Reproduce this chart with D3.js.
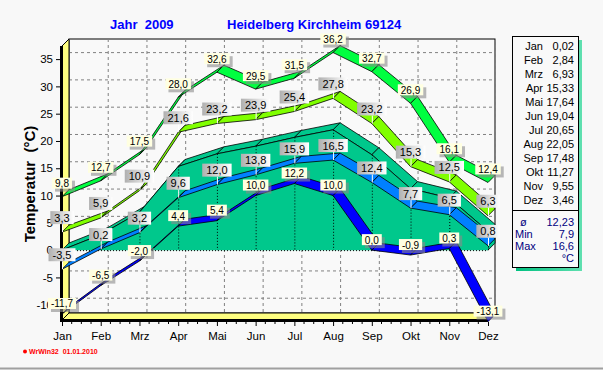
<!DOCTYPE html>
<html>
<head>
<meta charset="utf-8">
<script src="https://cdn.jsdelivr.net/npm/d3@7"></script>
<style>
  body { margin: 0; background: #f8f8f8; }
  svg { display: block; font-family: "Liberation Sans", Arial, sans-serif; }
</style>
</head>
<body>
<div id="chart"></div>
<script>
// monthly values, Heidelberg Kirchheim 2009
const months = ["Jan","Feb","Mrz","Apr","Mai","Jun","Jul","Aug","Sep","Okt","Nov","Dez"];
const absMax = [9.8,12.7,17.5,28.0,32.6,29.5,31.5,36.2,32.7,26.9,16.1,12.4];
const meanMax = [3.3,5.9,10.9,21.6,23.2,23.9,25.4,27.8,23.2,15.3,12.5,6.3];
const meanTemp = [0.02,2.84,6.93,15.33,17.64,19.04,20.65,22.05,17.48,11.27,9.55,3.46];
const meanMin = [-3.5,0.2,3.2,9.6,12.0,13.8,15.9,16.5,12.4,7.7,6.5,0.8];
const absMin = [-11.7,-6.5,-2.0,4.4,5.4,10.0,12.2,10.0,0.0,-0.9,0.3,-13.1];
const yTicks = [-10,-5,0,5,10,15,20,25,30,35];
const statNames = ["ø","Min","Max"];
const statValues = ["12,23","7,9","16,6"];

const W = 603, H = 370;
const D = 7; // 3d depth

const svg = d3.select("#chart").append("svg")
  .attr("width", W).attr("height", H);

const defs = svg.append("defs");
const gg = defs.append("linearGradient").attr("id", "grayGrad")
  .attr("x1", 0).attr("x2", 1).attr("y1", 0).attr("y2", 0);
gg.append("stop").attr("offset", "0%").attr("stop-color", "#b0b0b0");
gg.append("stop").attr("offset", "100%").attr("stop-color", "#ffffff");
const sg = defs.append("linearGradient").attr("id", "shadowGrad")
  .attr("x1", 0).attr("x2", 1).attr("y1", 0).attr("y2", 0);
sg.append("stop").attr("offset", "0%").attr("stop-color", "#00c080");
sg.append("stop").attr("offset", "100%").attr("stop-color", "#60e0b0");

svg.append("rect").attr("width", W).attr("height", H).attr("fill", "#f8f8f8");
svg.append("line").attr("x1", 0).attr("x2", W).attr("y1", 368.5).attr("y2", 368.5)
  .attr("stroke", "#a0a0a0").attr("stroke-width", 2);

/* scales */
const x = d3.scalePoint().domain(months).range([62, 488]);
const y = d3.scaleLinear().domain([-12.8, 37.4]).range([320, 46]);

const x0 = x.range()[0], x1 = x.range()[1];
const yb = y.range()[0], yt = y.range()[1];

/* back wall + grid */
svg.append("rect")
  .attr("x", x0 + D).attr("y", yt - D)
  .attr("width", x1 - x0).attr("height", yb - yt)
  .attr("fill", "#f9f9f9").attr("stroke", "#000");

const grid = svg.append("g")
  .attr("stroke", "#808080").attr("stroke-dasharray", "3,3");
grid.selectAll(".hg").data(yTicks).join("line")
  .attr("x1", x0 + D).attr("x2", x1 + D)
  .attr("y1", d => y(d) - D + 0.5).attr("y2", d => y(d) - D + 0.5);
grid.selectAll(".vg").data(months).join("line")
  .attr("x1", d => x(d) + D + 0.5).attr("x2", d => x(d) + D + 0.5)
  .attr("y1", yt - D).attr("y2", yb - D);

/* left wall and floor */
svg.append("polygon")
  .attr("points", [[x0, yt], [x0 + D, yt - D], [x0 + D, yb - D], [x0, yb]].join(" "))
  .attr("fill", "#ffff80").attr("stroke", "#000");
svg.append("polygon")
  .attr("points", [[x0, yb], [x0 + D, yb - D], [x1 + D, yb - D], [x1, yb]].join(" "))
  .attr("fill", "#ffff80").attr("stroke", "#000");
svg.append("line").attr("x1", x0 - 0.5).attr("x2", x0 - 0.5).attr("y1", yt).attr("y2", yb + 2)
  .attr("stroke", "#000").attr("stroke-width", 3);
svg.append("line").attr("x1", x0).attr("x2", x1).attr("y1", yb + 0.5).attr("y2", yb + 0.5)
  .attr("stroke", "#000").attr("stroke-width", 3);

/* axes */
const yAxis = svg.append("g")
  .attr("transform", `translate(${x0 - 2},0)`)
  .call(d3.axisLeft(y).tickValues(yTicks).tickSize(4).tickPadding(3).tickFormat(d => String(d)));
yAxis.select(".domain").remove();
yAxis.selectAll("text").attr("font-size", 11.5).attr("fill", "#000");

const xAxis = svg.append("g")
  .attr("transform", `translate(0,${yb + 2})`)
  .call(d3.axisBottom(x).tickSize(4).tickPadding(6));
xAxis.select(".domain").remove();
xAxis.selectAll("text").attr("font-size", 11.5).attr("fill", "#000");

// minor ticks between months
const step = x.step();
const minor = [];
months.slice(0, -1).forEach(m => { for (let k = 1; k <= 3; k++) minor.push(x(m) + k * step / 4); });
svg.append("g").selectAll("line").data(minor).join("line")
  .attr("x1", d => d).attr("x2", d => d)
  .attr("y1", yb + 2).attr("y2", yb + 4)
  .attr("stroke", "#000");

/* titles */
svg.append("text").attr("x", 110).attr("y", 29)
  .attr("font-size", 13).attr("font-weight", "bold").attr("fill", "#0000ff")
  .attr("xml:space", "preserve").text("Jahr  2009");
svg.append("text").attr("x", 227).attr("y", 29)
  .attr("font-size", 13).attr("font-weight", "bold").attr("fill", "#0000ff")
  .text("Heidelberg Kirchheim 69124");
svg.append("text")
  .attr("transform", "translate(35,184) rotate(-90)")
  .attr("text-anchor", "middle")
  .attr("font-size", 15).attr("font-weight", "bold").attr("fill", "#000")
  .attr("xml:space", "preserve").text("Temperatur  (°C)");

/* 3d area for mean temperature */
const front = (vals, i) => [x(months[i]), y(vals[i])];
const back = (vals, i) => [x(months[i]) + D, y(vals[i]) - D];
const areaG = svg.append("g");
const areaColor = "#00c88c";
for (let i = 0; i < months.length - 1; i++) {
  areaG.append("polygon")
    .attr("points", [front(meanTemp, i), front(meanTemp, i + 1), back(meanTemp, i + 1), back(meanTemp, i)].join(" "))
    .attr("fill", areaColor).attr("stroke", "#000").attr("stroke-width", 0.8);
}
const last = months.length - 1;
areaG.append("polygon")
  .attr("points", [front(meanTemp, last), back(meanTemp, last), [x1 + D, y(0) - D], [x1, y(0)]].join(" "))
  .attr("fill", areaColor).attr("stroke", "#000").attr("stroke-width", 0.8);
areaG.append("path")
  .datum(meanTemp)
  .attr("d", d3.area().x((d, i) => x(months[i])).y0(y(0)).y1(d => y(d)))
  .attr("fill", areaColor);
areaG.append("path")
  .datum(meanTemp)
  .attr("d", d3.line().x((d, i) => x(months[i])).y(d => y(d)))
  .attr("fill", "none").attr("stroke", "#000").attr("stroke-width", 0.8);
areaG.selectAll(".al").data(meanTemp).join("line")
  .attr("x1", (d, i) => x(months[i]) + 0.5).attr("x2", (d, i) => x(months[i]) + 0.5)
  .attr("y1", d => y(d)).attr("y2", y(0))
  .attr("stroke", "#000").attr("stroke-dasharray", "1,2");
areaG.append("line")
  .attr("x1", x0).attr("x2", x1).attr("y1", y(0) + 0.5).attr("y2", y(0) + 0.5)
  .attr("stroke", "#000").attr("stroke-dasharray", "1,2");

/* ribbons */
function ribbon(vals, color) {
  const g = svg.append("g");
  for (let i = 0; i < vals.length - 1; i++) {
    g.append("polygon")
      .attr("points", [front(vals, i), front(vals, i + 1), back(vals, i + 1), back(vals, i)].join(" "))
      .attr("fill", color).attr("stroke", "#000").attr("stroke-width", 0.8);
  }
}
ribbon(meanMin, "#0080ff");
ribbon(absMin, "#0000ff");
ribbon(meanMax, "#80ff00");
ribbon(absMax, "#00ff40");

/* marks */
const fmt = v => v.toFixed(1).replace(".", ",");
function marks(vals, kind, gap) {
  const g = svg.append("g");
  vals.forEach((v, i) => {
    const px = x(months[i]), py = y(v);
    const lg = g.append("g");
    const h = kind === "gray" ? 13 : 11;
    const t = lg.append("text")
      .attr("x", px).attr("y", py - gap - (h - 8) / 2)
      .attr("text-anchor", "middle").attr("font-size", kind === "gray" ? 11 : 10)
      .attr("fill", "#000").text(fmt(v));
    const w = t.node().getComputedTextLength() + (kind === "gray" ? 8 : 6);
    if (kind === "gray") {
      lg.insert("line", "text")
        .attr("x1", px + 0.5).attr("x2", px + 0.5)
        .attr("y1", py - gap).attr("y2", py)
        .attr("stroke", "#fff");
      lg.insert("rect", "text")
        .attr("x", px - w / 2).attr("y", py - gap - h)
        .attr("width", w).attr("height", h)
        .attr("fill", "url(#grayGrad)");
    } else {
      lg.insert("rect", "text")
        .attr("x", px - w / 2 + 3).attr("y", py - gap - h + 3)
        .attr("width", w).attr("height", h)
        .attr("fill", "#8a8a8a").attr("opacity", 0.6);
      lg.insert("rect", "text")
        .attr("x", px - w / 2).attr("y", py - gap - h)
        .attr("width", w).attr("height", h)
        .attr("fill", "#ffffe1");
    }
  });
}
marks(meanMin, "gray", 8);
marks(meanMax, "gray", 8);
marks(absMin, "yellow", 5);
marks(absMax, "yellow", 8);

/* side panel */
const px0 = 512, py0 = 36, pw = 66, ph = 231;
svg.append("rect").attr("x", px0 + 4).attr("y", py0 + 4)
  .attr("width", pw).attr("height", ph).attr("fill", "url(#shadowGrad)");
svg.append("rect").attr("x", px0 + 0.5).attr("y", py0 + 0.5)
  .attr("width", pw).attr("height", ph)
  .attr("fill", "#f9f9f9").attr("stroke", "#000");
const rows = svg.append("g").attr("font-size", 11).attr("fill", "#000");
months.forEach((m, i) => {
  rows.append("text").attr("x", 543).attr("y", 50 + i * 14)
    .attr("text-anchor", "end").text(m);
  rows.append("text").attr("x", 574).attr("y", 50 + i * 14)
    .attr("text-anchor", "end").text(meanTemp[i].toFixed(2).replace(".", ","));
});
svg.append("line").attr("x1", px0).attr("x2", px0 + pw)
  .attr("y1", 210.5).attr("y2", 210.5).attr("stroke", "#000");
const stats = svg.append("g").attr("font-size", 11).attr("fill", "#000080");
statNames.forEach((s, i) => {
  stats.append("text").attr("x", s === "ø" ? 520 : 515).attr("y", 226 + i * 12.2).text(s);
  stats.append("text").attr("x", 574).attr("y", 226 + i * 12.2)
    .attr("text-anchor", "end").text(statValues[i]);
});
stats.append("text").attr("x", 574).attr("y", 262).attr("text-anchor", "end").text("°C");

/* footer */
svg.append("circle").attr("cx", 25).attr("cy", 351.5).attr("r", 2).attr("fill", "#ff0000");
svg.append("text").attr("x", 29).attr("y", 354)
  .attr("font-size", 7).attr("font-weight", "bold").attr("fill", "#ff0000")
  .attr("xml:space", "preserve").text("WrWin32  01.01.2010");
</script>
</body>
</html>
